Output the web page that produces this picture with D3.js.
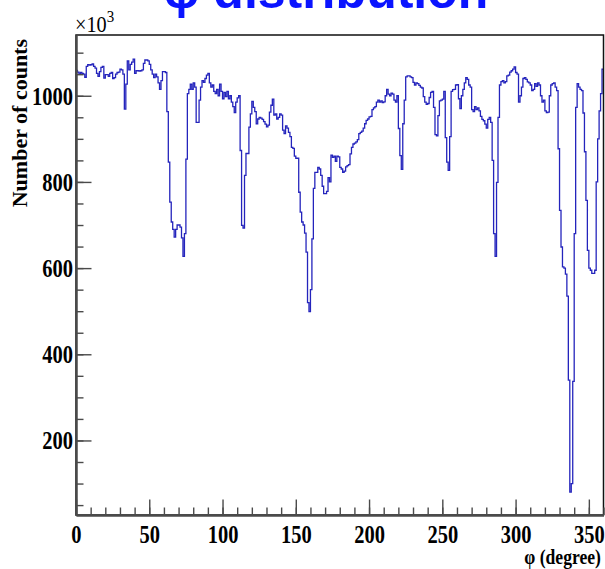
<!DOCTYPE html>
<html>
<head>
<meta charset="utf-8">
<script src="https://cdn.jsdelivr.net/npm/d3@7/dist/d3.min.js"></script>
<style>
  body { margin: 0; background: #fff; }
</style>
</head>
<body>
<div id="chart"></div>
<script>
// Histogram of phi, 1 degree bins, counts in units of 10^3
var phiRange = [0, 360];
var binWidth = 1;

var counts0to89 = [
  1059, 1055, 1050, 1054, 1052, 1050, 1043, 1068, 1072, 1071,
  1072, 1074, 1068, 1064, 1052, 1045, 1056, 1066, 1068, 1041,
  1049, 1049, 1045, 1052, 1054, 1040, 1042, 1050, 1054, 1055,
  1062, 1060, 1050, 969, 1027, 1081, 1060, 1073, 1078, 1085,
  1052, 1058, 1058, 1057, 1058, 1060, 1075, 1083, 1083, 1081,
  1073, 1060, 1050, 1042, 1050, 1044, 1030, 1015, 1035, 1056,
  1056, 1054, 963, 846, 753, 707, 690, 672, 690, 700,
  700, 695, 670, 627, 680, 853, 1005, 1015, 1027, 1015,
  1030, 1020, 938, 938, 990, 1020, 1035, 1031, 1040, 1048
];
var counts90to179 = [
  1052, 1030, 1020, 1025, 1010, 1005, 1015, 1000, 1027, 1010,
  993, 1008, 998, 1010, 993, 1000, 985, 975, 961, 985,
  995, 1000, 873, 699, 693, 815, 866, 866, 927, 958,
  987, 973, 963, 935, 946, 950, 948, 945, 940, 934,
  928, 932, 962, 978, 992, 955, 958, 946, 950, 958,
  955, 920, 912, 930, 925, 915, 905, 880, 878, 860,
  855, 855, 776, 730, 707, 700, 681, 637, 520, 499,
  550, 668, 785, 822, 822, 834, 830, 815, 790, 773,
  773, 778, 810, 800, 862, 857, 860, 848, 860, 858
];
var counts180to269 = [
  834, 830, 822, 825, 835, 838, 840, 865, 880, 888,
  890, 893, 898, 912, 915, 918, 925, 935, 943, 946,
  951, 952, 968, 972, 975, 985, 990, 985, 988, 984,
  986, 1000, 1015, 1004, 1000, 1006, 1004, 990, 985, 1000,
  924, 861, 829, 935, 990, 1044, 1046, 1046, 1044, 1042,
  1031, 1025, 1030, 1028, 1024, 1020, 1018, 998, 985, 980,
  982, 996, 1008, 1010, 973, 910, 907, 954, 988, 990,
  992, 1010, 903, 846, 827, 905, 1010, 1014, 1015, 1025,
  1026, 993, 970, 1000, 1015, 1030, 1042, 1038, 1025, 1020
];
var counts270to359 = [
  968, 963, 975, 968, 972, 965, 952, 945, 942, 934,
  925, 945, 950, 938, 850, 680, 627, 799, 950, 1025,
  1033, 1035, 1030, 1033, 1046, 1048, 1055, 1058, 1062, 1067,
  1054, 1050, 985, 1000, 1020, 1040, 1042, 1038, 1032, 1030,
  1025, 1012, 1015, 1028, 1022, 1030, 1025, 1000, 985, 990,
  965, 961, 962, 1000, 1025, 1028, 1030, 1020, 1012, 877,
  734, 649, 603, 600, 586, 535, 340, 80, 100, 337,
  680, 973, 1028, 1020, 1015, 1012, 960, 870, 757, 641,
  600, 595, 588, 588, 595, 800, 900, 965, 1005, 1062
];

var xMajorTicks = [0, 50, 100, 150, 200, 250, 300, 350];
var xMinorTicks = d3.range(0, 361, 10);
var yMajorTicks = [200, 400, 600, 800, 1000];
var yMinorTicks = d3.range(50, 1101, 50);
var yRange = [27, 1141];

var titleText = "\u03c6 distribution";
var xTitle = "\u03c6 (degree)";
var yTitle = "Number of counts";

// layout
var fullWidth = 605;
var fullHeight = 569;
var frame = { left: 76, right: 603.5, top: 35, bottom: 515 };
var squish = 0.82;
var axisColor = "#4a4a4a";

var counts = counts0to89.concat(counts90to179, counts180to269, counts270to359);

var svg = d3.select('#chart')
  .append('svg')
  .attr('width', fullWidth)
  .attr('height', fullHeight)
  .style('display', 'block');

var x = d3.scaleLinear().domain(phiRange).range([frame.left, frame.right]);
var y = d3.scaleLinear().domain(yRange).range([frame.bottom, frame.top]);

svg.append('clipPath')
  .attr('id', 'frameClip')
  .append('rect')
    .attr('x', frame.left)
    .attr('y', frame.top)
    .attr('width', frame.right - frame.left)
    .attr('height', frame.bottom - frame.top);

// histogram outline
var steps = counts.map(function(v, i) { return [phiRange[0] + i * binWidth, v]; });
steps.push([phiRange[0] + counts.length * binWidth, counts[counts.length - 1]]);

var line = d3.line()
  .x(function(d) { return x(d[0]); })
  .y(function(d) { return y(d[1]); })
  .curve(d3.curveStepAfter);

svg.append('path')
  .datum(steps)
  .attr('clip-path', 'url(#frameClip)')
  .attr('fill', 'none')
  .attr('stroke', '#2424bc')
  .attr('stroke-width', 1.3)
  .attr('d', line);

// frame box
svg.append('rect')
  .attr('x', frame.left)
  .attr('y', frame.top)
  .attr('width', frame.right - frame.left)
  .attr('height', frame.bottom - frame.top)
  .attr('fill', 'none')
  .attr('stroke', '#111')
  .attr('stroke-width', 1.5);

// minor ticks
svg.append('g')
  .attr('transform', 'translate(' + frame.left + ',0)')
  .call(d3.axisLeft(y).tickValues(yMinorTicks).tickSize(-7.5).tickSizeOuter(0).tickFormat(''))
  .classed('minor', true);

svg.append('g')
  .attr('transform', 'translate(0,' + frame.bottom + ')')
  .call(d3.axisBottom(x).tickValues(xMinorTicks).tickSize(-7.5).tickSizeOuter(0).tickFormat(''))
  .classed('minor', true);

// major ticks with labels
var yAxisG = svg.append('g')
  .attr('transform', 'translate(' + frame.left + ',0)')
  .call(d3.axisLeft(y).tickValues(yMajorTicks).tickSize(-15.5).tickSizeOuter(0).tickFormat(d3.format('d')));

var xAxisG = svg.append('g')
  .attr('transform', 'translate(0,' + frame.bottom + ')')
  .call(d3.axisBottom(x).tickValues(xMajorTicks).tickSize(-15.5).tickSizeOuter(0).tickFormat(d3.format('d')));

svg.selectAll('.domain')
  .attr('stroke', axisColor)
  .attr('stroke-width', 2);
svg.selectAll('.tick line')
  .attr('stroke', axisColor)
  .attr('stroke-width', 1.4);

yAxisG.selectAll('text')
  .attr('font-family', '"Liberation Serif", "Times New Roman", serif')
  .attr('font-weight', 'bold')
  .attr('font-size', 25)
  .attr('fill', '#000')
  .attr('x', -3 / squish)
  .attr('dy', '0.34em')
  .attr('transform', 'scale(' + squish + ',1)');

xAxisG.selectAll('text')
  .attr('font-family', '"Liberation Serif", "Times New Roman", serif')
  .attr('font-weight', 'bold')
  .attr('font-size', 25)
  .attr('fill', '#000')
  .attr('y', 28)
  .attr('dy', 0)
  .attr('transform', 'scale(' + squish + ',1)');

// exponent label above the y axis
var expo = svg.append('text')
  .attr('font-family', '"Liberation Serif", "Times New Roman", serif')
  .attr('fill', '#000')
  .attr('transform', 'translate(' + (frame.left - 1) + ',32) scale(0.88,1)');
expo.append('tspan').attr('font-size', 23).text('\u00d710');
expo.append('tspan').attr('font-size', 17).attr('dy', -10).text('3');

// axis titles
svg.append('text')
  .attr('font-family', '"Liberation Serif", "Times New Roman", serif')
  .attr('font-weight', 'bold')
  .attr('font-size', 21)
  .attr('text-anchor', 'end')
  .attr('transform', 'translate(601,564) scale(0.84,1)')
  .text(xTitle);

svg.append('text')
  .attr('font-family', '"Liberation Serif", "Times New Roman", serif')
  .attr('font-weight', 'bold')
  .attr('font-size', 22)
  .attr('text-anchor', 'end')
  .attr('transform', 'translate(27,39) rotate(-90)')
  .text(yTitle);

// title, mostly above the page
svg.append('text')
  .attr('x', 326)
  .attr('y', 7.5)
  .attr('text-anchor', 'middle')
  .attr('font-family', '"Liberation Sans", Arial, sans-serif')
  .attr('font-weight', 'bold')
  .attr('font-size', 50)
  .attr('fill', '#0a14ff')
  .text(titleText);
</script>
</body>
</html>
